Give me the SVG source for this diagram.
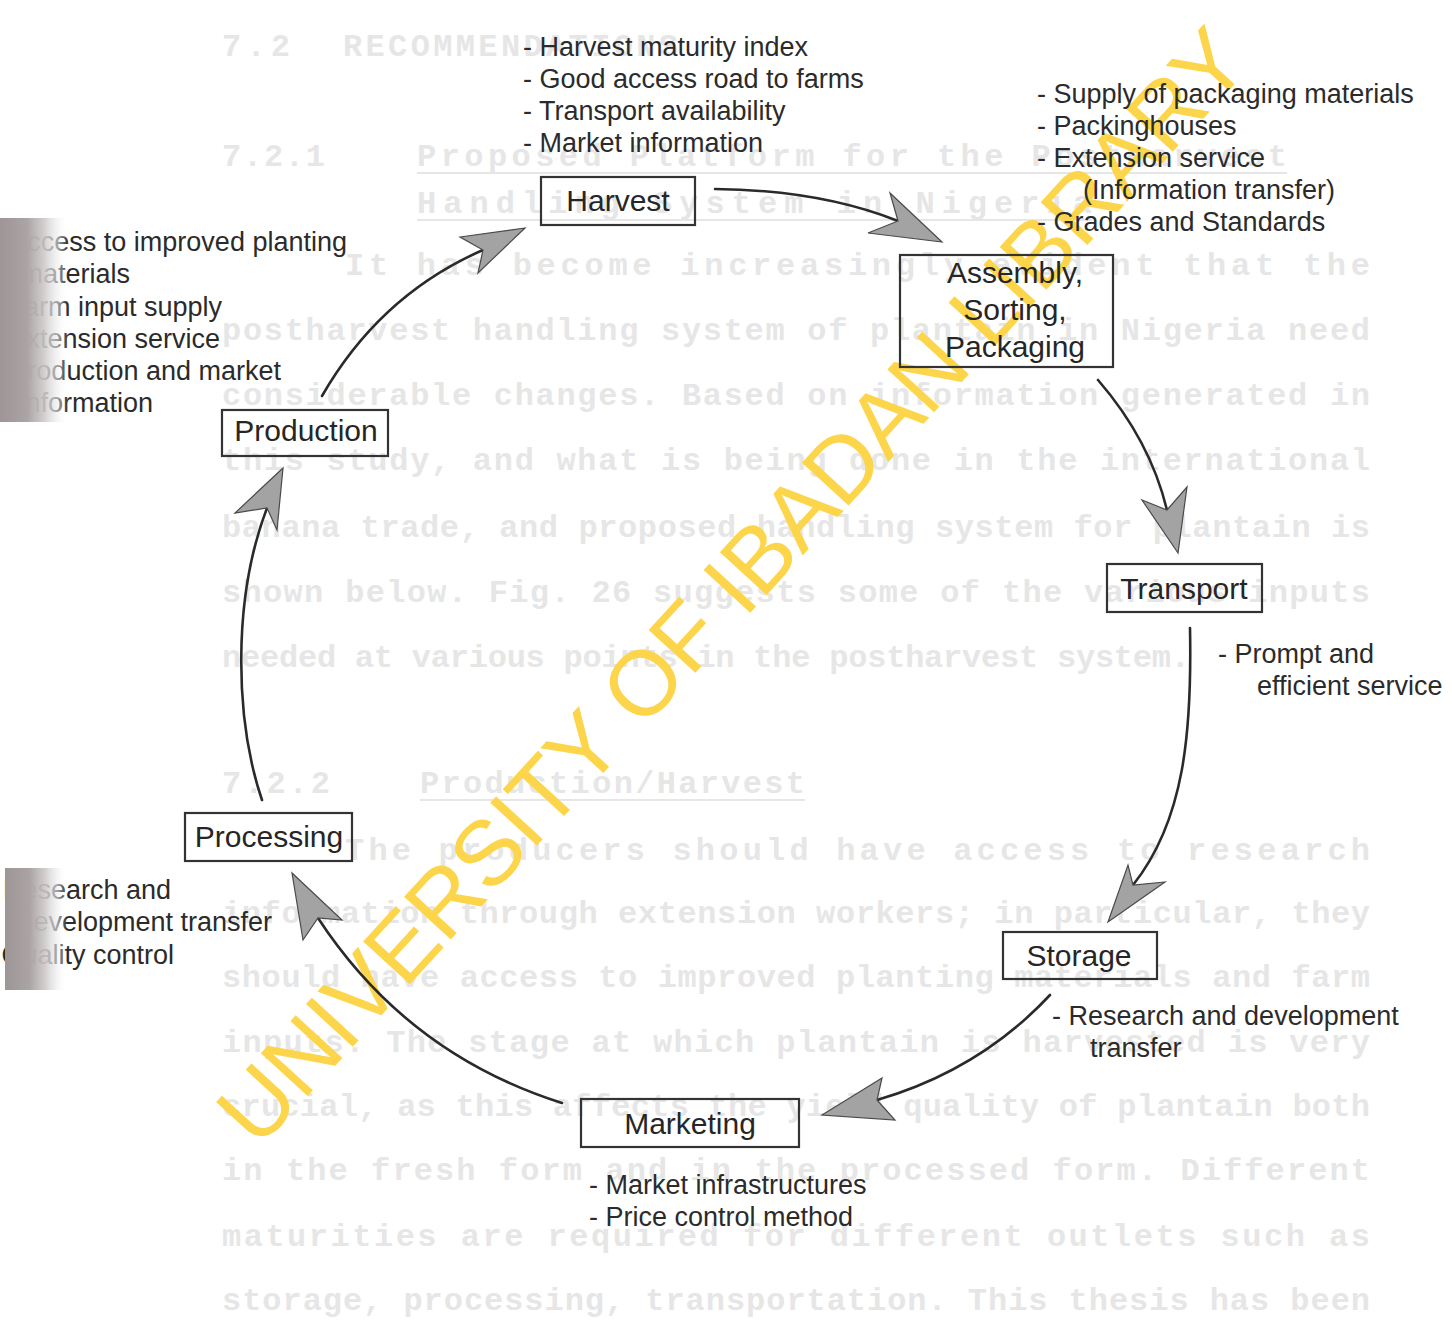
<svg xmlns="http://www.w3.org/2000/svg" width="1452" height="1326" viewBox="0 0 1452 1326">
<defs>
<style>
.bg{font-family:"Liberation Mono","DejaVu Sans Mono",monospace;font-size:32px;font-weight:bold;fill:#e6e6e6;}
.ul{stroke:#e6e6e6;stroke-width:2;}
.note{font-family:"Liberation Sans",Arial,sans-serif;font-size:27px;fill:#2b2b2b;}
.lbl{font-family:"Liberation Sans",Arial,sans-serif;font-size:30px;fill:#262626;text-anchor:middle;}
.box{fill:none;stroke:#333;stroke-width:2.2;}
.edge{fill:none;stroke:#2a2a2a;stroke-width:2.6;stroke-linecap:round;}
.head{fill:#a3a3a3;stroke:#4a4a4a;stroke-width:1.2;stroke-linejoin:miter;}
.wm{font-family:"Liberation Sans",Arial,sans-serif;font-size:92px;fill:#fcd54a;}
</style>
<linearGradient id="shade" x1="0" y1="0" x2="1" y2="0">
<stop offset="0" stop-color="#9e9696" stop-opacity="1"/>
<stop offset="0.4" stop-color="#aba4a4" stop-opacity="1"/>
<stop offset="0.65" stop-color="#cdc9c9" stop-opacity="0.9"/>
<stop offset="0.85" stop-color="#eeeeee" stop-opacity="0.6"/>
<stop offset="1" stop-color="#ffffff" stop-opacity="0"/>
</linearGradient>
</defs>
<rect width="1452" height="1326" fill="#ffffff"/>

<g id="page-show-through">
<text class="bg" x="222" y="56" textLength="68" lengthAdjust="spacing">7.2</text>
<text class="bg" x="343" y="56" textLength="335" lengthAdjust="spacing">RECOMMENDATIONS</text>
<text class="bg" x="222" y="166" textLength="103" lengthAdjust="spacing">7.2.1</text>
<text class="bg" x="417" y="166" textLength="870" lengthAdjust="spacing">Proposed Platform for the Postharvest</text>
<line class="ul" x1="417" y1="173" x2="1287" y2="173"/>
<text class="bg" x="417" y="213" textLength="675" lengthAdjust="spacing">Handling System in Nigeria</text>
<line class="ul" x1="417" y1="220" x2="1092" y2="220"/>
<text class="bg" x="345" y="275" textLength="1025" lengthAdjust="spacing">It has become increasingly evident that the</text>
<text class="bg" x="222" y="340" textLength="1148" lengthAdjust="spacing">postharvest handling system of plantain in Nigeria need</text>
<text class="bg" x="222" y="405" textLength="1148" lengthAdjust="spacing">considerable changes.  Based on information generated in</text>
<text class="bg" x="222" y="470" textLength="1148" lengthAdjust="spacing">this study, and what is being done in the international</text>
<text class="bg" x="222" y="537" textLength="1148" lengthAdjust="spacing">banana trade, and proposed handling system for plantain is</text>
<text class="bg" x="222" y="602" textLength="1148" lengthAdjust="spacing">shown below. Fig. 26 suggests some of the various inputs</text>
<text class="bg" x="222" y="667" textLength="968" lengthAdjust="spacing">needed at various points in the postharvest system.</text>
<text class="bg" x="222" y="793" textLength="108" lengthAdjust="spacing">7.2.2</text>
<text class="bg" x="420" y="793" textLength="385" lengthAdjust="spacing">Production/Harvest</text>
<line class="ul" x1="420" y1="800" x2="805" y2="800"/>
<text class="bg" x="345" y="860" textLength="1025" lengthAdjust="spacing">The producers should have access to research</text>
<text class="bg" x="222" y="923" textLength="1148" lengthAdjust="spacing">information through extension workers; in particular, they</text>
<text class="bg" x="222" y="987" textLength="1148" lengthAdjust="spacing">should have access to improved planting materials and farm</text>
<text class="bg" x="222" y="1052" textLength="1148" lengthAdjust="spacing">inputs.  The stage at which plantain is harvested is very</text>
<text class="bg" x="222" y="1116" textLength="1148" lengthAdjust="spacing">crucial, as this affects the yield quality of plantain both</text>
<text class="bg" x="222" y="1180" textLength="1148" lengthAdjust="spacing">in the fresh form and in the processed form.  Different</text>
<text class="bg" x="222" y="1246" textLength="1148" lengthAdjust="spacing">maturities are required for different outlets such as</text>
<text class="bg" x="222" y="1310" textLength="1148" lengthAdjust="spacing">storage, processing, transportation.  This thesis has been</text>
</g>

<g id="watermark">
<text class="wm" transform="translate(258,1150) rotate(-47.5)" textLength="1472" lengthAdjust="spacing">UNIVERSITY OF IBADAN LIBRARY</text>
</g>

<g id="connectors">
<path class="edge" d="M322,396 Q380,295 483,250"/>
<polygon class="head" points="525,228 460,237 483,250 478,273"/>
<path class="edge" d="M715,189 Q820,190 898,221"/>
<polygon class="head" points="942,242 890,193 898,221 868,233"/>
<path class="edge" d="M1098,380 Q1150,440 1167,510"/>
<polygon class="head" points="1178,553 1142,500 1167,510 1187,487"/>
<path class="edge" d="M1190,628 C1192,730 1185,820 1133,885"/>
<polygon class="head" points="1108,922 1128,865 1133,885 1165,882"/>
<path class="edge" d="M1050,995 Q980,1070 877,1100"/>
<polygon class="head" points="822,1115 882,1078 877,1100 895,1120"/>
<path class="edge" d="M562,1103 Q407,1054 318,918"/>
<polygon class="head" points="292,873 303,940 318,918 342,920"/>
<path class="edge" d="M262,800 C235,720 232,600 267,508"/>
<polygon class="head" points="283,468 235,513 267,508 277,530"/>
</g>

<g id="node-harvest">
<rect class="box" x="541" y="177" width="154" height="48"/>
<text class="lbl" x="618" y="211">Harvest</text>
</g>
<g id="node-assembly">
<rect class="box" x="900" y="255" width="213" height="112"/>
<text class="lbl" x="1015" y="283">Assembly,</text>
<text class="lbl" x="1015" y="320">Sorting,</text>
<text class="lbl" x="1015" y="357">Packaging</text>
</g>
<g id="node-transport">
<rect class="box" x="1107" y="564" width="155" height="48"/>
<text class="lbl" x="1184" y="599">Transport</text>
</g>
<g id="node-storage">
<rect class="box" x="1003" y="932" width="154" height="47"/>
<text class="lbl" x="1079" y="966">Storage</text>
</g>
<g id="node-marketing">
<rect class="box" x="581" y="1099" width="218" height="48"/>
<text class="lbl" x="690" y="1134">Marketing</text>
</g>
<g id="node-processing">
<rect class="box" x="185" y="813" width="167" height="48"/>
<text class="lbl" x="269" y="847">Processing</text>
</g>
<g id="node-production">
<rect class="box" x="222" y="410" width="166" height="46"/>
<text class="lbl" x="306" y="441">Production</text>
</g>

<g id="notes">
<text class="note" x="523" y="56">- Harvest maturity index</text>
<text class="note" x="523" y="88">- Good access road to farms</text>
<text class="note" x="523" y="120">- Transport availability</text>
<text class="note" x="523" y="152">- Market information</text>

<text class="note" x="1037" y="103">- Supply of packaging materials</text>
<text class="note" x="1037" y="135">- Packinghouses</text>
<text class="note" x="1037" y="167">- Extension service</text>
<text class="note" x="1083" y="199">(Information transfer)</text>
<text class="note" x="1037" y="231">- Grades and Standards</text>

<g text-anchor="end">
<text class="note" x="347" y="251">- Access to improved planting</text>
<text class="note" x="130" y="283">materials</text>
<text class="note" x="222" y="316">- Farm input supply</text>
<text class="note" x="220" y="348">- Extension service</text>
<text class="note" x="281" y="380">- Production and market</text>
<text class="note" x="153" y="412">information</text>
<text class="note" x="171" y="899">- Research and</text>
<text class="note" x="272" y="931">development transfer</text>
<text class="note" x="174" y="964">- Quality control</text>
</g>

<text class="note" x="1218" y="663">- Prompt and</text>
<text class="note" x="1257" y="695">efficient service</text>
<text class="note" x="1052" y="1025">- Research and development</text>
<text class="note" x="1090" y="1057">transfer</text>
<text class="note" x="589" y="1194">- Market infrastructures</text>
<text class="note" x="589" y="1226">- Price control method</text>
</g>

<g id="scan-shading">
<rect x="0" y="218" width="68" height="204" fill="url(#shade)"/>
<rect x="5" y="868" width="62" height="122" fill="url(#shade)"/>
</g>
</svg>
